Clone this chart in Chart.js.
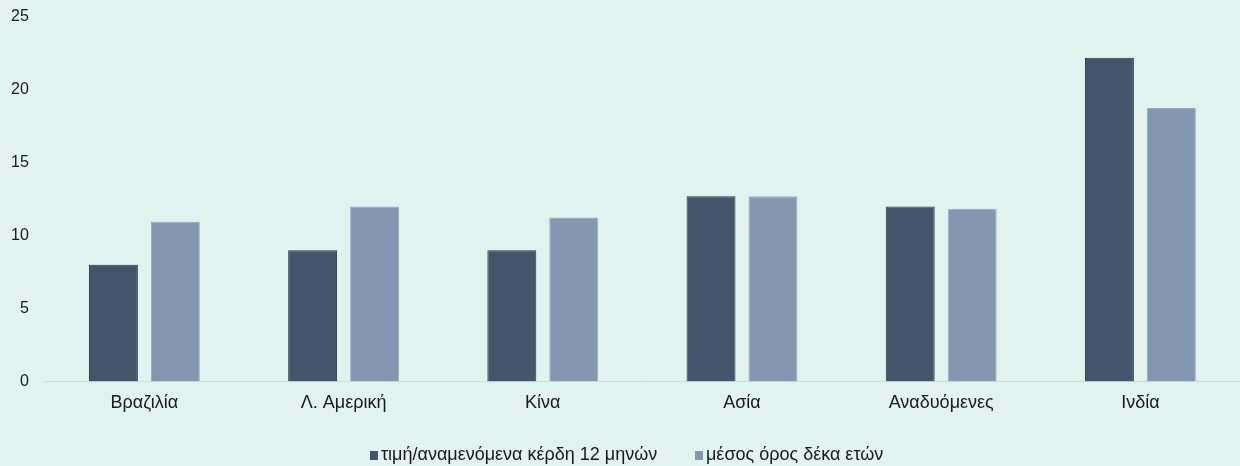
<!DOCTYPE html>
<html lang="el">
<head>
<meta charset="utf-8">
<title>Τιμή / κέρδη</title>
<script src="https://cdn.jsdelivr.net/npm/chart.js@4.4.0/dist/chart.umd.min.js"></script>
<style>
  html, body { margin: 0; padding: 0; background: #e2f2ee; overflow: hidden; }
  .wrap { position: relative; width: 1240px; height: 466px; overflow: hidden; }
  #chart { display: block; }
  .legend {
    position: absolute; left: 370px; top: 445px;
    font: 18px/18px "Liberation Sans", Arial, sans-serif; color: #1a1a1a;
    white-space: nowrap;
  }
  .legend span { position: absolute; top: 0; white-space: nowrap; }
  .legend i { position: absolute; left: 0; top: 6px; width: 8px; height: 9px; }
  .legend b { font-weight: normal; position: absolute; left: 11px; top: 0; }
</style>
</head>
<body>
<div class="wrap">
  <canvas id="chart" width="1240" height="466"></canvas>
  <div class="legend" id="legend"></div>
</div>
<script>
// Δεδομένα
const categories = ['Βραζιλία', 'Λ. Αμερική', 'Κίνα', 'Ασία', 'Αναδυόμενες', 'Ινδία'];
const currentPE = [8.0, 9.0, 9.0, 12.7, 12.0, 22.2];
const tenYearAvg = [10.95, 12.0, 11.25, 12.7, 11.85, 18.75];
const seriesNames = ['τιμή/αναμενόμενα κέρδη 12 μηνών', 'μέσος όρος δέκα ετών'];
const yTicks = [0, 5, 10, 15, 20, 25];

const FONT = '"Liberation Sans", Arial, sans-serif';
const TEXT = '#1a1a1a';

const datasets = [
  {
    label: seriesNames[0],
    data: currentPE,
    backgroundColor: '#44546a',
    borderColor: '#2c3848',
    borderWidth: 1
  },
  {
    label: seriesNames[1],
    data: tenYearAvg,
    backgroundColor: '#8497b0',
    borderColor: '#9aabc0',
    borderWidth: 1
  }
];

new Chart(document.getElementById('chart'), {
  type: 'bar',
  data: { labels: categories, datasets },
  options: {
    responsive: false,
    animation: false,
    categoryPercentage: 0.622,
    barPercentage: 0.79,
    layout: { padding: { left: -5, top: 17, right: 0, bottom: 41 } },
    plugins: {
      legend: { display: false },
      tooltip: { enabled: false }
    },
    scales: {
      x: {
        z: 1,
        grid: { display: false, drawTicks: false },
        border: { display: true, color: '#d4dada', width: 1 },
        ticks: { color: TEXT, font: { family: FONT, size: 18 }, padding: 11 }
      },
      y: {
        min: 0,
        max: 25,
        afterBuildTicks: (axis) => { axis.ticks = yTicks.map(v => ({ value: v })); },
        // η πάνω απόσταση ορίζεται μόνο από το layout.padding
        afterFit: (axis) => { axis.paddingTop = 0; },
        grid: { display: false, drawTicks: false },
        border: { display: false },
        ticks: { color: TEXT, font: { family: FONT, size: 16 }, padding: 16 }
      }
    }
  }
});

// Υπόμνημα κάτω από το γράφημα
const legendX = [0, 325];
const legend = document.getElementById('legend');
datasets.forEach((ds, i) => {
  const item = document.createElement('span');
  item.style.left = legendX[i] + 'px';
  const box = document.createElement('i');
  box.style.background = ds.backgroundColor;
  const txt = document.createElement('b');
  txt.textContent = ds.label;
  item.appendChild(box);
  item.appendChild(txt);
  legend.appendChild(item);
});
</script>
</body>
</html>
